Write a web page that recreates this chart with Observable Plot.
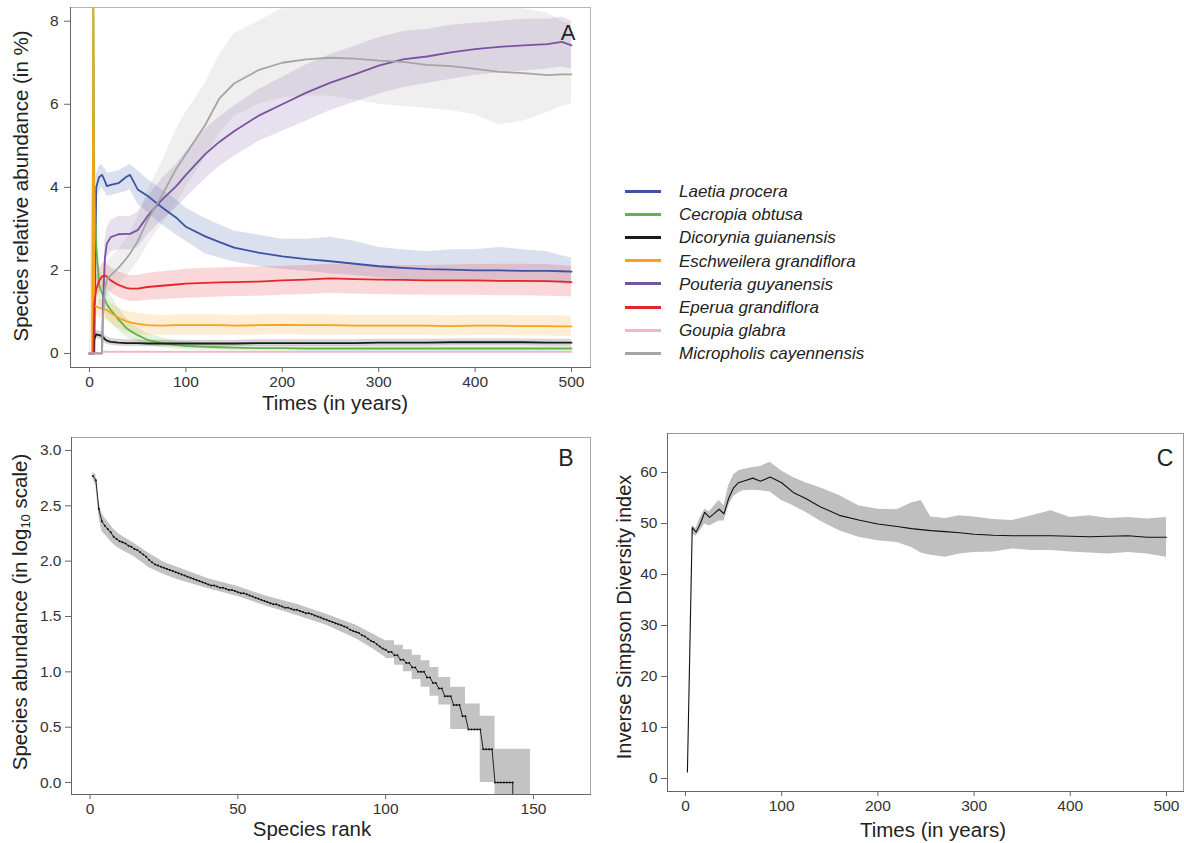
<!DOCTYPE html>
<html><head><meta charset="utf-8">
<script src="https://cdn.jsdelivr.net/npm/d3@7"></script>
<script src="https://cdn.jsdelivr.net/npm/@observablehq/plot@0.6"></script>
<style>
body{margin:0;background:#fff;}
#root{position:relative;width:1184px;height:843px;overflow:hidden;font-family:"Liberation Sans",Arial,Helvetica,sans-serif;color:#222;background:#fff;}
.panel{position:absolute;}
.lbl{position:absolute;white-space:nowrap;transform:translate(-50%,-50%);line-height:1;color:#222;}
.rot{transform:translate(-50%,-50%) rotate(-90deg);}
.leg{position:absolute;display:flex;align-items:center;font-style:italic;font-size:17px;color:#222;white-space:nowrap;transform:translateY(-50%);line-height:1;}
.leg svg{display:block;margin-right:18px;}
</style></head>
<body><div id="root"></div>
<script>
// ---------- Panel A: species relative abundance over time ----------
const A_species = ["Laetia procera","Cecropia obtusa","Dicorynia guianensis","Eschweilera grandiflora","Pouteria guyanensis","Eperua grandiflora","Goupia glabra","Micropholis cayennensis"];
const A_colors = ["#3a53a4","#5fb548","#1a1a1a","#f7a21b","#7b529f","#e4262b","#f4b5c9","#a5a5a5"];
const tA = [0,3,4,5,7,10,13,14,16,18,22,30,38,42,50,60,75,90,100,120,135,150,175,200,225,250,275,300,325,350,375,400,425,450,475,490,500];

const laetiaMean = [0,0,0,0,4.0,4.25,4.3,4.25,4.15,4.03,4.06,4.1,4.25,4.3,3.95,3.8,3.52,3.27,3.05,2.82,2.68,2.55,2.43,2.34,2.27,2.22,2.16,2.1,2.06,2.03,2.02,2.0,2.0,1.99,1.99,1.98,1.97];
const laetiaLo   = [0,0,0,0,3.7,3.9,4.0,3.95,3.9,3.8,3.8,3.85,3.9,3.95,3.6,3.4,3.1,2.85,2.7,2.4,2.3,2.2,2.1,2.02,1.98,1.92,1.88,1.82,1.78,1.76,1.74,1.72,1.72,1.7,1.7,1.68,1.66];
const laetiaHi   = [0,0,0,0,4.3,4.5,4.55,4.5,4.45,4.35,4.35,4.4,4.5,4.55,4.4,4.2,3.95,3.7,3.5,3.25,3.1,2.95,2.85,2.75,2.75,2.8,2.7,2.55,2.5,2.45,2.5,2.5,2.55,2.5,2.45,2.35,2.3];

const cecropiaMean = [0,0,8.33,4.0,2.6,1.65,1.45,1.4,1.3,1.18,1.05,0.82,0.62,0.55,0.44,0.33,0.25,0.2,0.18,0.16,0.15,0.14,0.13,0.13,0.12,0.12,0.12,0.12,0.12,0.12,0.12,0.12,0.12,0.12,0.12,0.12,0.12];
const cecropiaLo   = [0,0,0,0,1.8,1.2,1.05,1.0,0.95,0.85,0.75,0.55,0.4,0.35,0.28,0.2,0.14,0.1,0.09,0.08,0.07,0.07,0.06,0.06,0.05,0.05,0.05,0.05,0.05,0.05,0.05,0.05,0.05,0.05,0.05,0.05,0.05];
const cecropiaHi   = [0,0,8.33,6,3.4,2.1,1.85,1.8,1.7,1.55,1.4,1.1,0.85,0.78,0.62,0.48,0.38,0.3,0.28,0.25,0.24,0.22,0.2,0.2,0.2,0.2,0.2,0.2,0.2,0.2,0.2,0.2,0.2,0.2,0.2,0.2,0.2];

const dicoryniaMean = [0,0,0,0.35,0.46,0.44,0.42,0.4,0.34,0.31,0.28,0.26,0.25,0.25,0.25,0.24,0.24,0.24,0.24,0.24,0.24,0.24,0.25,0.25,0.25,0.25,0.25,0.26,0.26,0.26,0.27,0.27,0.27,0.27,0.26,0.26,0.26];
const dicoryniaLo   = [0,0,0,0.25,0.36,0.34,0.32,0.3,0.25,0.22,0.2,0.18,0.17,0.17,0.17,0.16,0.16,0.16,0.16,0.16,0.16,0.16,0.17,0.17,0.17,0.17,0.17,0.18,0.18,0.18,0.19,0.19,0.19,0.19,0.18,0.18,0.18];
const dicoryniaHi   = [0,0,0,0.45,0.56,0.54,0.52,0.5,0.43,0.4,0.36,0.34,0.33,0.33,0.33,0.32,0.32,0.32,0.32,0.32,0.32,0.32,0.33,0.33,0.33,0.33,0.33,0.34,0.34,0.34,0.35,0.35,0.35,0.35,0.34,0.34,0.34];

const eschweileraMean = [0,0,8.33,1.15,1.13,1.1,1.08,1.07,1.06,1.05,0.98,0.86,0.78,0.75,0.71,0.68,0.67,0.68,0.68,0.68,0.68,0.67,0.68,0.69,0.68,0.68,0.67,0.67,0.67,0.67,0.66,0.67,0.67,0.66,0.66,0.65,0.65];
const eschweileraLo   = [0,0,0,0.95,0.92,0.88,0.85,0.83,0.82,0.8,0.72,0.6,0.52,0.5,0.46,0.44,0.43,0.44,0.44,0.44,0.44,0.43,0.44,0.45,0.44,0.44,0.43,0.43,0.43,0.43,0.42,0.43,0.43,0.42,0.42,0.41,0.41];
const eschweileraHi   = [0,5.1,5.1,1.35,1.33,1.3,1.28,1.27,1.26,1.25,1.2,1.1,1.02,1.0,0.96,0.93,0.92,0.93,0.93,0.93,0.93,0.92,0.93,0.94,0.93,0.93,0.92,0.92,0.92,0.92,0.91,0.92,0.92,0.91,0.91,0.9,0.9];

const pouteriaMean = [0,0,0,0,0,0,0,1.2,2.3,2.65,2.8,2.87,2.88,2.88,2.97,3.3,3.7,4.03,4.3,4.8,5.1,5.35,5.72,6.0,6.28,6.52,6.72,6.93,7.08,7.15,7.25,7.33,7.38,7.42,7.45,7.5,7.42];
const pouteriaLo   = [0,0,0,0,0,0,0,0.8,1.9,2.3,2.45,2.5,2.5,2.5,2.55,2.85,3.2,3.5,3.75,4.2,4.5,4.75,5.1,5.35,5.6,5.85,6.05,6.25,6.4,6.5,6.6,6.7,6.75,6.8,6.85,6.9,6.85];
const pouteriaHi   = [0,0,0,0,0,0,0,1.6,2.7,3.0,3.2,3.3,3.3,3.3,3.4,3.75,4.2,4.55,4.85,5.4,5.7,5.95,6.35,6.65,6.95,7.2,7.4,7.6,7.75,7.8,7.9,7.95,8.0,8.05,8.05,8.1,8.0];

const eperuaMean = [0,0,0,1.2,1.55,1.75,1.85,1.87,1.88,1.85,1.76,1.65,1.58,1.56,1.56,1.6,1.63,1.66,1.68,1.7,1.71,1.72,1.73,1.76,1.78,1.81,1.79,1.78,1.77,1.76,1.76,1.76,1.75,1.75,1.74,1.73,1.72];
const eperuaLo   = [0,0,0,0.9,1.25,1.45,1.55,1.57,1.58,1.55,1.46,1.35,1.28,1.26,1.25,1.28,1.3,1.32,1.33,1.35,1.36,1.37,1.38,1.4,1.42,1.45,1.43,1.42,1.41,1.4,1.4,1.4,1.39,1.39,1.38,1.37,1.36];
const eperuaHi   = [0,0,0,1.5,1.85,2.05,2.15,2.17,2.18,2.15,2.07,1.97,1.9,1.88,1.88,1.93,1.97,2.0,2.03,2.05,2.06,2.07,2.08,2.1,2.12,2.15,2.13,2.12,2.12,2.12,2.13,2.14,2.15,2.15,2.14,2.12,2.1];

const goupiaMean = [0,0,0,0,0,0,0,0.04,0.04,0.04,0.04,0.04,0.04,0.04,0.04,0.04,0.04,0.04,0.04,0.04,0.04,0.04,0.04,0.04,0.04,0.04,0.04,0.04,0.04,0.04,0.04,0.04,0.04,0.04,0.04,0.04,0.04];
const goupiaLo   = [0,0,0,0,0,0,0,0.01,0.01,0.01,0.01,0.01,0.01,0.01,0.01,0.01,0.01,0.01,0.01,0.01,0.01,0.01,0.01,0.01,0.01,0.01,0.01,0.01,0.01,0.01,0.01,0.01,0.01,0.01,0.01,0.01,0.01];
const goupiaHi   = [0,0,0,0,0,0,0,0.08,0.08,0.08,0.08,0.08,0.08,0.08,0.08,0.08,0.08,0.08,0.08,0.08,0.08,0.08,0.08,0.08,0.08,0.08,0.08,0.08,0.08,0.08,0.08,0.08,0.08,0.08,0.08,0.08,0.08];

const micropholisMean = [0,0,0,0,0,0,0,0.9,1.55,1.78,1.88,2.06,2.28,2.4,2.7,3.2,3.8,4.45,4.8,5.5,6.15,6.5,6.82,7.0,7.08,7.12,7.1,7.05,7.02,6.95,6.92,6.85,6.78,6.75,6.7,6.72,6.72];
const micropholisLo   = [0,0,0,0,0,0,0,0.5,1.1,1.4,1.5,1.65,1.85,1.95,2.2,2.6,3.1,3.6,4.0,4.7,5.3,5.7,6.0,6.15,6.2,6.2,6.1,6.0,5.95,5.9,5.85,5.75,5.5,5.6,5.8,5.95,6.0];
const micropholisHi   = [0,0,0,0,0,0,0,1.3,2.0,2.2,2.3,2.5,2.75,2.9,3.3,3.9,4.6,5.4,5.8,6.5,7.2,7.7,8.0,8.3,8.3,8.3,8.3,8.3,8.3,8.3,8.3,8.3,8.3,8.3,8.2,8.0,7.9];

const xTicksA = [0,100,200,300,400,500];
const yTicksA = [0,2,4,6,8];

// ---------- Panel B: rank-abundance ----------
const rankVals = [2.77,2.73,2.47,2.36,2.32,2.29,2.26,2.22,2.20,2.18,
2.17,2.16,2.14,2.13,2.11,2.10,2.08,2.06,2.04,2.01,
1.99,1.97,1.96,1.95,1.94,1.93,1.92,1.91,1.90,1.89,
1.88,1.87,1.86,1.85,1.84,1.83,1.82,1.81,1.80,1.79,
1.78,1.78,1.77,1.76,1.76,1.75,1.74,1.74,1.73,1.72,
1.71,1.71,1.70,1.69,1.68,1.67,1.66,1.65,1.64,1.63,
1.62,1.61,1.61,1.60,1.59,1.58,1.58,1.57,1.56,1.56,
1.55,1.54,1.53,1.53,1.52,1.51,1.50,1.49,1.48,1.47,
1.46,1.45,1.44,1.43,1.42,1.41,1.40,1.38,1.37,1.36,
1.35,1.33,1.32,1.30,1.28,1.27,1.25,1.23,1.21,1.20,
1.18,1.18,1.15,1.15,1.11,1.11,1.08,1.08,1.04,1.04,
1.00,1.00,1.00,0.95,0.95,0.90,0.90,0.85,0.85,0.78,
0.78,0.78,0.70,0.70,0.70,0.60,0.60,0.48,0.48,0.48,
0.48,0.48,0.30,0.30,0.30,0.30,0.00,0.00,0.00,0.00,
0.00,0.00,0.00];
const dropRank = 143, dropVal = -0.11;
const headRank = [1,2,3,4,5,8,10,15,20,25,30,40,50,60,70,80,90,95,100];
const headLo   = [2.74,2.68,2.40,2.27,2.24,2.15,2.11,2.04,1.94,1.88,1.83,1.75,1.68,1.59,1.51,1.42,1.30,1.22,1.13];
const headHi   = [2.80,2.78,2.52,2.43,2.39,2.29,2.24,2.16,2.07,1.99,1.94,1.84,1.77,1.68,1.61,1.52,1.42,1.35,1.28];
const tailRank = [100,103,106,109,112,115,118,122,127,132,137,149];
const tailLo   = [1.12,1.06,1.00,0.93,0.86,0.78,0.70,0.48,0.48,0.00,-0.11,-0.11];
const tailHi   = [1.28,1.24,1.20,1.15,1.10,1.04,0.95,0.86,0.71,0.60,0.30,0.30];
const xTicksB = [0,50,100,150];
const yTicksB = [0,0.5,1,1.5,2,2.5,3];

// ---------- Panel C: inverse Simpson ----------
const tC    = [2,7,11,15,20,25,30,35,40,45,50,55,60,70,78,88,100,112,125,140,160,180,200,220,235,245,255,270,285,300,320,340,360,380,400,420,440,460,480,500];
const meanC = [1.3,49.2,48.3,49.8,52.2,51.2,52.0,52.8,51.9,55.0,57.0,58.0,58.3,58.9,58.3,59.1,58.0,56.1,54.9,53.3,51.6,50.7,49.9,49.4,49.0,48.8,48.6,48.4,48.2,47.9,47.7,47.6,47.6,47.6,47.5,47.4,47.5,47.6,47.3,47.3];
const hiC   = [1.3,49.6,49.0,51.0,52.8,52.3,53.5,54.5,53.5,57.5,59.5,60.3,60.6,61.0,61.2,62.0,60.3,59.0,58.0,57.0,55.5,53.5,52.8,52.7,54.0,54.5,51.3,51.0,51.5,51.3,50.8,50.6,51.5,52.5,51.2,51.5,51.0,51.2,50.9,51.2];
const loC   = [1.3,47.9,47.5,48.5,49.9,49.5,50.0,50.5,50.5,53.5,55.3,56.0,56.4,56.5,56.4,56.2,54.5,53.5,52.2,50.5,48.6,47.3,46.6,46.3,45.3,44.2,43.8,43.4,44.0,44.3,44.4,45.0,44.7,44.7,44.4,44.2,44.0,44.3,44.0,43.4];
const xTicksC = [0,100,200,300,400,500];
const yTicksC = [0,10,20,30,40,50,60];

// ---------- build ----------
const root = document.getElementById("root");
const font = "Liberation Sans, Arial, Helvetica, sans-serif";
const baseStyle = {fontFamily: font, fontSize: "15.5px", color: "#333", background: "transparent", overflow: "visible"};
const axisStyle = {stroke: "#666", fill: "#333", fontSize: 15.5, label: null};

function place(el, left, top) {
  const d = document.createElement("div");
  d.className = "panel"; d.style.left = left + "px"; d.style.top = top + "px";
  d.appendChild(el); root.appendChild(d);
}
function label(html, x, y, size, rotate) {
  const d = document.createElement("div");
  d.className = "lbl" + (rotate ? " rot" : "");
  d.style.left = x + "px"; d.style.top = y + "px"; d.style.fontSize = size + "px";
  d.innerHTML = html; root.appendChild(d);
}

const seriesA = [
  [laetiaMean, laetiaLo, laetiaHi],
  [cecropiaMean, cecropiaLo, cecropiaHi],
  [dicoryniaMean, dicoryniaLo, dicoryniaHi],
  [eschweileraMean, eschweileraLo, eschweileraHi],
  [pouteriaMean, pouteriaLo, pouteriaHi],
  [eperuaMean, eperuaLo, eperuaHi],
  [goupiaMean, goupiaLo, goupiaHi],
  [micropholisMean, micropholisLo, micropholisHi]
];
const rowsA = seriesA.flatMap(([m, lo, hi], i) => tA.map((t, j) => ({sp: A_species[i], t, mean: m[j], lo: lo[j], hi: hi[j]})));

const plotA = Plot.plot({
  width: 600, height: 415,
  marginLeft: 70, marginRight: 10, marginTop: 7, marginBottom: 48,
  style: baseStyle,
  x: {domain: [-19.7, 519.7]},
  y: {domain: [-0.338, 8.33]},
  color: {domain: A_species, range: A_colors},
  marks: [
    Plot.frame({stroke: "#b5b5b5"}),
    Plot.areaY(rowsA, {x: "t", y1: "lo", y2: "hi", fill: "sp", fillOpacity: 0.18, clip: true}),
    Plot.lineY(rowsA, {x: "t", y: "mean", stroke: "sp", strokeWidth: 1.8, clip: true}),
    Plot.axisX({ticks: xTicksA, tickSize: 5, tickPadding: 3, ...axisStyle}),
    Plot.axisY({ticks: yTicksA, tickSize: 6, tickPadding: 6, ...axisStyle}),
    Plot.frame({anchor: "left", stroke: "#666"}),
    Plot.frame({anchor: "bottom", stroke: "#666"})
  ]
});
place(plotA, 0, 0);

const rowsB = rankVals.map((v, i) => ({rank: i + 1, v}));
const lineB = rowsB.concat([{rank: dropRank, v: dropVal}]);
const headB = headRank.map((r, i) => ({rank: r, lo: headLo[i], hi: headHi[i]}));
const tailB = tailRank.map((r, i) => ({rank: r, lo: tailLo[i], hi: tailHi[i]}));

const plotB = Plot.plot({
  width: 600, height: 413,
  marginLeft: 71, marginRight: 10, marginTop: 7, marginBottom: 49,
  style: baseStyle,
  x: {domain: [-6.26, 169.3]},
  y: {domain: [-0.108, 3.117]},
  marks: [
    Plot.frame({stroke: "#a8a8a8"}),
    Plot.areaY(headB, {x: "rank", y1: "lo", y2: "hi", fill: "#c3c3c3", clip: true}),
    Plot.areaY(tailB, {x: "rank", y1: "lo", y2: "hi", fill: "#c3c3c3", curve: "step-after", clip: true}),
    Plot.lineY(lineB, {x: "rank", y: "v", stroke: "#222", strokeWidth: 1, clip: true}),
    Plot.dot(rowsB, {x: "rank", y: "v", r: 1, fill: "#111", stroke: "none"}),
    Plot.axisX({ticks: xTicksB, tickSize: 5, tickPadding: 3, ...axisStyle}),
    Plot.axisY({ticks: yTicksB, tickSize: 6, tickPadding: 4, tickFormat: d3.format(".1f"), ...axisStyle}),
    Plot.frame({anchor: "left", stroke: "#666"}),
    Plot.frame({anchor: "bottom", stroke: "#666"})
  ]
});
place(plotB, 0, 430);

const rowsC = tC.map((t, i) => ({t, m: meanC[i], lo: loC[i], hi: hiC[i]}));
const plotC = Plot.plot({
  width: 584, height: 423,
  marginLeft: 67, marginRight: 1, marginTop: 13, marginBottom: 52,
  style: baseStyle,
  x: {domain: [-18.7, 517.7]},
  y: {domain: [-2.55, 67.65]},
  marks: [
    Plot.frame({stroke: "#999"}),
    Plot.areaY(rowsC, {x: "t", y1: "lo", y2: "hi", fill: "#bfbfbf"}),
    Plot.lineY(rowsC, {x: "t", y: "m", stroke: "#111", strokeWidth: 1.1}),
    Plot.axisX({ticks: xTicksC, tickSize: 5, tickPadding: 3, ...axisStyle}),
    Plot.axisY({ticks: yTicksC, tickSize: 6, tickPadding: 4, ...axisStyle}),
    Plot.frame({anchor: "left", stroke: "#666"}),
    Plot.frame({anchor: "bottom", stroke: "#666"})
  ]
});
place(plotC, 600, 420);

// axis titles and panel letters
label("Species relative abundance (in %)", 21, 186, 20.5, true);
label("Times (in years)", 335, 403, 20.5, false);
label("Species abundance (in log<sub style='font-size:13px;vertical-align:-3px'>10</sub> scale)", 21, 612, 20.5, true);
label("Species rank", 312, 829, 20.5, false);
label("Inverse Simpson Diversity index", 624, 617, 20, true);
label("Times (in years)", 933, 830, 20.5, false);
label("A", 568, 33, 22, false);
label("B", 566, 458, 23, false);
label("C", 1165, 458, 23, false);

// legend
A_species.forEach((name, i) => {
  const d = document.createElement("div");
  d.className = "leg";
  d.style.left = "625px";
  d.style.top = (191 + i * 23.2) + "px";
  d.innerHTML = `<svg width="36" height="6"><line x1="0" y1="3" x2="36" y2="3" stroke="${A_colors[i]}" stroke-width="3"/></svg><span>${name}</span>`;
  root.appendChild(d);
});
</script></body></html>
